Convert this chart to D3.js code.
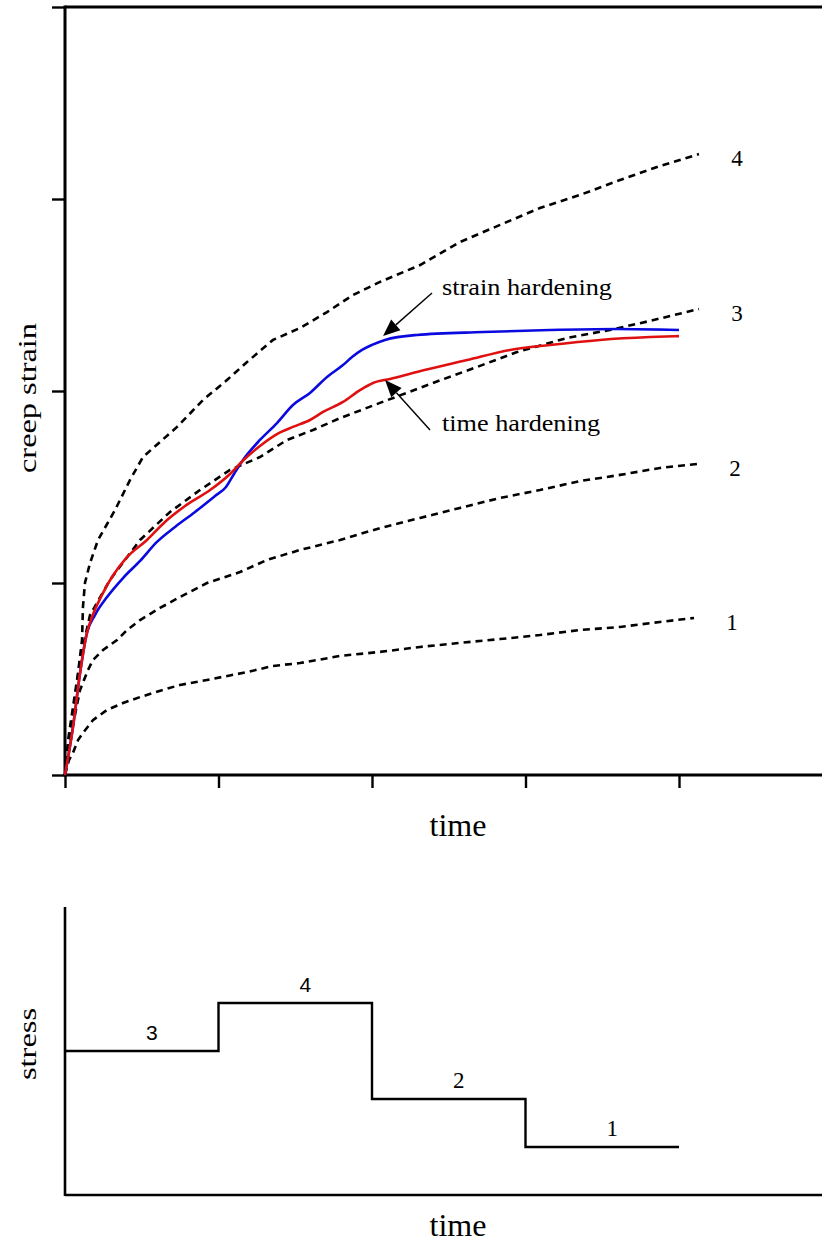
<!DOCTYPE html>
<html>
<head>
<meta charset="utf-8">
<script src="https://cdn.jsdelivr.net/npm/d3@7"></script>
<style>
  html, body { margin: 0; padding: 0; background: #fff; }
  svg { display: block; }
</style>
</head>
<body>
<div id="chart"></div>
<script>
// ---- data -------------------------------------------------------------
// creep curves at constant stress levels 1..4, as [time, strain]
const creep1 = [[0,0],[0.026,0.078],[0.052,0.115],[0.085,0.182],[0.117,0.219],[0.182,0.286],[0.274,0.339],[0.378,0.375],[0.489,0.406],[0.638,0.443],[0.749,0.469],[0.925,0.495],[1.186,0.536],[1.355,0.568],[1.531,0.583],[1.792,0.620],[2.052,0.641],[2.313,0.667],[2.573,0.688],[2.834,0.708],[3.094,0.729],[3.355,0.755],[3.616,0.771],[3.876,0.797],[4.098,0.818]];
const creep2 = [[0,0],[0.033,0.182],[0.065,0.313],[0.098,0.443],[0.150,0.547],[0.182,0.599],[0.248,0.651],[0.339,0.703],[0.404,0.755],[0.489,0.807],[0.619,0.870],[0.749,0.927],[0.925,1.000],[1.140,1.057],[1.316,1.120],[1.531,1.172],[1.792,1.224],[2.052,1.286],[2.313,1.339],[2.573,1.391],[2.834,1.443],[3.094,1.484],[3.355,1.531],[3.616,1.563],[3.876,1.599],[4.117,1.620]];
const creep3 = [[0,0],[0.046,0.286],[0.098,0.599],[0.163,0.833],[0.293,1.016],[0.489,1.224],[0.684,1.370],[0.879,1.484],[1.075,1.589],[1.270,1.656],[1.446,1.745],[1.616,1.797],[1.792,1.859],[2.052,1.938],[2.397,2.042],[2.684,2.125],[2.945,2.203],[3.270,2.276],[3.550,2.318],[3.811,2.365],[4.130,2.427]];
const creep4 = [[0,0],[0.020,0.182],[0.052,0.354],[0.085,0.531],[0.111,0.703],[0.117,0.875],[0.130,1.000],[0.163,1.104],[0.215,1.224],[0.326,1.380],[0.423,1.536],[0.508,1.656],[0.730,1.813],[0.899,1.953],[1.055,2.057],[1.186,2.151],[1.355,2.266],[1.531,2.328],[1.707,2.411],[1.876,2.500],[2.052,2.568],[2.313,2.656],[2.573,2.776],[2.834,2.865],[3.094,2.953],[3.355,3.021],[3.616,3.099],[3.876,3.172],[4.130,3.234]];
const creepLabels = ["1", "2", "3", "4"];

// response to the stepped stress history
const timeHardening = [[0,0],[0.052,0.250],[0.098,0.531],[0.143,0.740],[0.176,0.823],[0.241,0.938],[0.306,1.031],[0.404,1.135],[0.534,1.224],[0.651,1.318],[0.782,1.401],[0.945,1.484],[1.075,1.568],[1.160,1.638],[1.270,1.714],[1.381,1.776],[1.485,1.813],[1.596,1.849],[1.681,1.891],[1.811,1.943],[1.922,2.005],[2.007,2.042],[2.117,2.063],[2.293,2.099],[2.619,2.161],[2.899,2.214],[3.160,2.240],[3.485,2.266],[3.811,2.281],[4.000,2.286]];
const strainHardening = [[0,0],[0.052,0.250],[0.098,0.531],[0.143,0.740],[0.195,0.833],[0.274,0.927],[0.378,1.026],[0.489,1.115],[0.599,1.214],[0.717,1.292],[0.847,1.370],[0.977,1.453],[1.049,1.500],[1.101,1.568],[1.160,1.641],[1.270,1.745],[1.381,1.833],[1.485,1.927],[1.596,1.990],[1.707,2.073],[1.811,2.135],[1.870,2.177],[1.935,2.214],[2.000,2.240],[2.085,2.266],[2.293,2.292],[2.723,2.307],[3.160,2.318],[3.596,2.323],[4.000,2.318]];

const timeTicks = [0, 1, 2, 3, 4];
const strainTicks = [0, 1, 2, 3, 4];

// stepped stress history
const stressTimes = [0, 1, 2, 3, 4];
const stressLevels = [3, 4, 2, 1];
const stressLabels = ["3", "4", "2", "1"];

// ---- layout -----------------------------------------------------------
const W = 822, H = 1243;
const serif = "'Liberation Serif', 'Times New Roman', serif";
const sans = "'Liberation Sans', Arial, sans-serif";

const svg = d3.select("#chart").append("svg")
  .attr("width", W).attr("height", H)
  .style("background", "#fff");

const x = d3.scaleLinear().domain([0, 4]).range([65, 679]);
const y = d3.scaleLinear().domain([0, 4]).range([775, 7]);
const yS = d3.scaleLinear().domain([0, 6]).range([1195, 907]);

// ---- upper panel: creep strain vs time --------------------------------
const upper = svg.append("g");

const xAxis = upper.append("g")
  .attr("transform", `translate(0,${y(0)})`)
  .call(d3.axisBottom(x).tickValues(timeTicks).tickSize(13).tickFormat(""));
xAxis.select(".domain").remove();
xAxis.selectAll(".tick line").attr("stroke", "#000").attr("stroke-width", 2.4);

const yAxis = upper.append("g")
  .attr("transform", `translate(${x(0)},0)`)
  .call(d3.axisLeft(y).tickValues(strainTicks).tickSize(13).tickFormat(""));
yAxis.select(".domain").remove();
yAxis.selectAll(".tick line").attr("stroke", "#000").attr("stroke-width", 2.4);

// frame lines
upper.append("line")
  .attr("x1", x(0)).attr("x2", W).attr("y1", y(0)).attr("y2", y(0))
  .attr("stroke", "#000").attr("stroke-width", 3);
upper.append("line")
  .attr("x1", x(0)).attr("x2", W).attr("y1", y(4)).attr("y2", y(4))
  .attr("stroke", "#000").attr("stroke-width", 3);
upper.append("line")
  .attr("x1", x(0)).attr("x2", x(0)).attr("y1", y(4) - 1.5).attr("y2", y(0) + 1.5)
  .attr("stroke", "#000").attr("stroke-width", 3);

const line = d3.line().x(d => x(d[0])).y(d => y(d[1])).curve(d3.curveLinear);

const creepCurves = [creep1, creep2, creep3, creep4];
upper.selectAll("path.creep")
  .data(creepCurves)
  .join("path")
  .attr("class", "creep")
  .attr("d", line)
  .attr("fill", "none")
  .attr("stroke", "#000")
  .attr("stroke-width", 2.6)
  .attr("stroke-dasharray", "7,5");

const smooth = d3.line().x(d => x(d[0])).y(d => y(d[1])).curve(d3.curveMonotoneX);
upper.append("path")
  .datum(strainHardening)
  .attr("d", smooth)
  .attr("fill", "none").attr("stroke", "#0a0ae0").attr("stroke-width", 2.6);
upper.append("path")
  .datum(timeHardening)
  .attr("d", smooth)
  .attr("fill", "none").attr("stroke", "#e01010").attr("stroke-width", 2.6);

// stress level labels at the ends of the creep curves
upper.selectAll("text.clabel")
  .data(creepCurves)
  .join("text")
  .attr("class", "clabel")
  .attr("x", d => x(d[d.length - 1][0]) + 38)
  .attr("y", d => y(d[d.length - 1][1]) + 12)
  .attr("text-anchor", "middle")
  .attr("font-family", serif)
  .attr("font-size", 23)
  .text((d, i) => creepLabels[i]);

// annotations with arrows
function arrow(g, from, to) {
  const x1 = x(from[0]), y1 = y(from[1]), x2 = x(to[0]), y2 = y(to[1]);
  const ang = Math.atan2(y2 - y1, x2 - x1);
  const len = 17, half = 7;
  const bx = x2 - len * Math.cos(ang), by = y2 - len * Math.sin(ang);
  g.append("line")
    .attr("x1", x1).attr("y1", y1).attr("x2", bx).attr("y2", by)
    .attr("stroke", "#000").attr("stroke-width", 1.4);
  const pts = [
    [x2, y2],
    [bx + half * Math.sin(ang), by - half * Math.cos(ang)],
    [bx - half * Math.sin(ang), by + half * Math.cos(ang)]
  ];
  g.append("polygon").attr("points", pts.map(p => p.join(",")).join(" ")).attr("fill", "#000");
}
arrow(upper, [2.391, 2.510], [2.072, 2.286]);
arrow(upper, [2.378, 1.797], [2.085, 2.057]);

upper.append("text")
  .attr("x", 442).attr("y", 295)
  .attr("font-family", serif).attr("font-size", 23)
  .attr("textLength", 170).attr("lengthAdjust", "spacingAndGlyphs")
  .text("strain hardening");
upper.append("text")
  .attr("x", 442).attr("y", 431)
  .attr("font-family", serif).attr("font-size", 23)
  .attr("textLength", 158).attr("lengthAdjust", "spacingAndGlyphs")
  .text("time hardening");

// axis titles
upper.append("text")
  .attr("transform", "translate(36,398) rotate(-90)")
  .attr("text-anchor", "middle")
  .attr("font-family", serif).attr("font-size", 25)
  .attr("textLength", 150).attr("lengthAdjust", "spacingAndGlyphs")
  .text("creep strain");
upper.append("text")
  .attr("x", 458).attr("y", 836)
  .attr("text-anchor", "middle")
  .attr("font-family", serif).attr("font-size", 31)
  .attr("textLength", 57).attr("lengthAdjust", "spacingAndGlyphs")
  .text("time");

// ---- lower panel: stress history --------------------------------------
const lower = svg.append("g");

lower.append("line")
  .attr("x1", x(0)).attr("x2", x(0)).attr("y1", yS(6)).attr("y2", yS(0) + 1)
  .attr("stroke", "#000").attr("stroke-width", 2.6);
lower.append("line")
  .attr("x1", x(0)).attr("x2", W).attr("y1", yS(0)).attr("y2", yS(0))
  .attr("stroke", "#000").attr("stroke-width", 2.6);

const stepPts = stressTimes.map((t, i) => [t, stressLevels[Math.min(i, stressLevels.length - 1)]]);
lower.append("path")
  .datum(stepPts)
  .attr("d", d3.line().x(d => x(d[0])).y(d => yS(d[1])).curve(d3.curveStepAfter))
  .attr("fill", "none").attr("stroke", "#000").attr("stroke-width", 2.4);

lower.selectAll("text.slabel")
  .data(stressLevels)
  .join("text")
  .attr("class", "slabel")
  .attr("x", (d, i) => x((stressTimes[i] + stressTimes[i + 1]) / 2) + 10)
  .attr("y", d => yS(d) - 11)
  .attr("text-anchor", "middle")
  .attr("font-family", (d, i) => i < 2 ? sans : serif)
  .attr("font-size", (d, i) => i < 2 ? 21 : 23)
  .text((d, i) => stressLabels[i]);

lower.append("text")
  .attr("transform", "translate(36,1044) rotate(-90)")
  .attr("text-anchor", "middle")
  .attr("font-family", serif).attr("font-size", 25)
  .attr("textLength", 72).attr("lengthAdjust", "spacingAndGlyphs")
  .text("stress");
lower.append("text")
  .attr("x", 458).attr("y", 1236)
  .attr("text-anchor", "middle")
  .attr("font-family", serif).attr("font-size", 31)
  .attr("textLength", 57).attr("lengthAdjust", "spacingAndGlyphs")
  .text("time");
</script>
</body>
</html>
